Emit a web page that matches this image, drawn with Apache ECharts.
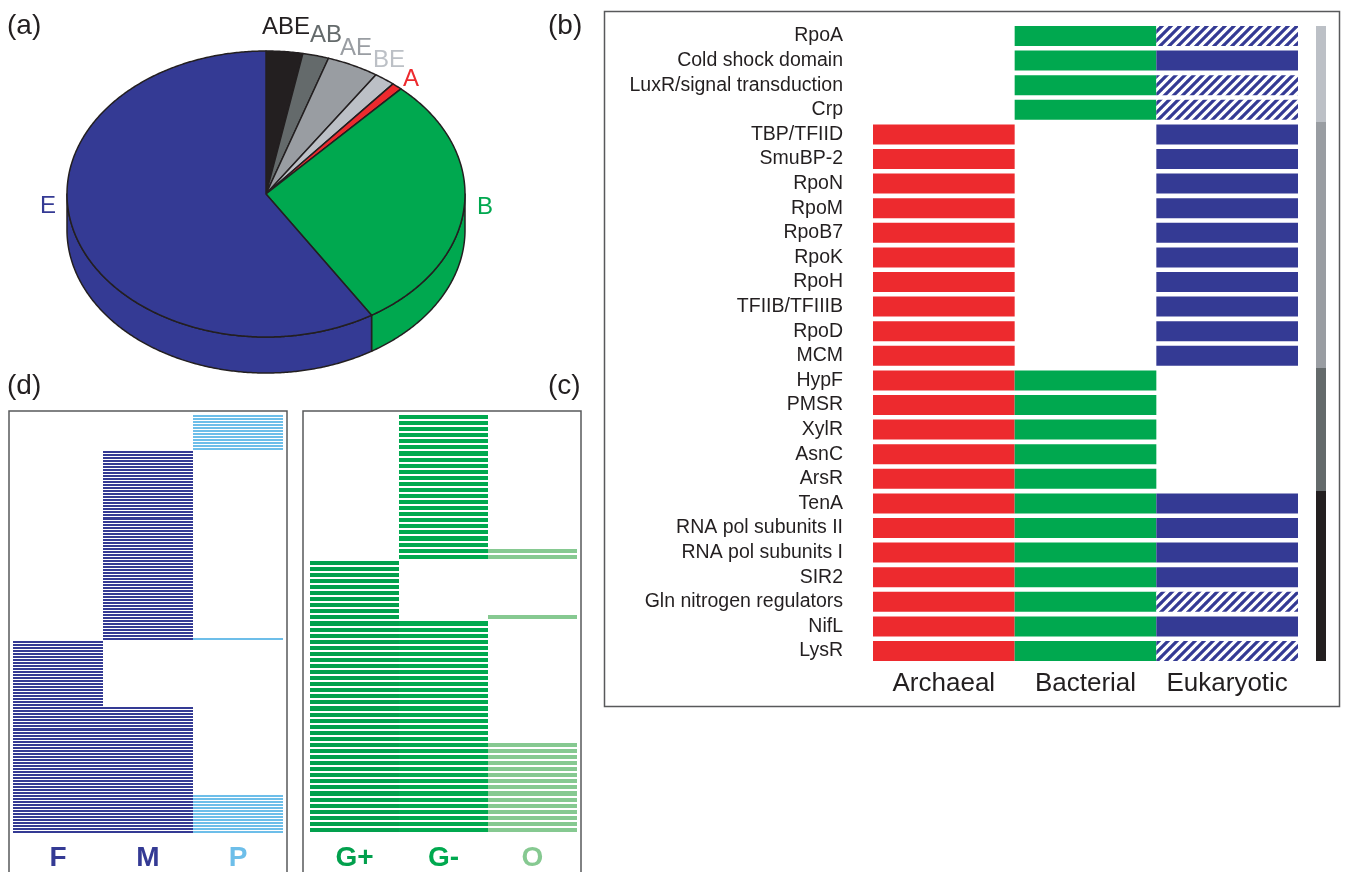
<!DOCTYPE html>
<html><head><meta charset="utf-8">
<script src="https://cdn.jsdelivr.net/npm/echarts@6/dist/echarts.min.js"></script>
<style>html,body{margin:0;padding:0;background:#fff}#c{width:1346px;height:872px}</style>
</head><body><div id="c"></div>
<script>
// ---------------- data ----------------
// (a) pie: number of families by phyletic pattern
const pieNames  = ['ABE','AB','AE','BE','A','B','E'];
const pieValues = [7, 5, 10, 4, 2, 69, 139];
const pieColors = ['#231F20','#646A6B','#999DA2','#BCC0C6','#ED2A2E','#00A84F','#343A94'];

// (b) distribution across domains (0 absent, 1 present, 2 present – hatched)
const bRows = ['RpoA','Cold shock domain','LuxR/signal transduction','Crp','TBP/TFIID','SmuBP-2','RpoN','RpoM','RpoB7','RpoK','RpoH','TFIIB/TFIIIB','RpoD','MCM','HypF','PMSR','XylR','AsnC','ArsR','TenA','RNA pol subunits II','RNA pol subunits I','SIR2','Gln nitrogen regulators','NifL','LysR'];
const bColumns    = ['Archaeal','Bacterial','Eukaryotic'];
const bArchaeal   = [0,0,0,0, 1,1,1,1,1,1,1,1,1,1, 1,1,1,1,1, 1,1,1,1,1,1,1];
const bBacterial  = [1,1,1,1, 0,0,0,0,0,0,0,0,0,0, 1,1,1,1,1, 1,1,1,1,1,1,1];
const bEukaryotic = [2,1,2,2, 1,1,1,1,1,1,1,1,1,1, 0,0,0,0,0, 1,1,1,1,2,1,2];

// (c) bacterial families: presence patterns (top to bottom) and number of rows
const cColumns = ['G+','G-','O'];
const cGroups = [['G-'],['G-','O'],['G+'],['G+','O'],['G+','G-'],['G+','G-','O']];
const cGroupCounts = [22, 2, 9, 1, 20, 15];

// (d) eukaryotic families: presence patterns (top to bottom) and number of rows
const dColumns = ['F','M','P'];
const dGroups = [['P'],['M'],['M','P'],['F'],['F','M'],['F','M','P']];
const dGroupCounts = [12, 62, 1, 22, 29, 13];

// ---------------- styles ----------------
const INK = '#231F20';
const FONT = '"Liberation Sans", Arial, Helvetica, sans-serif';
const bColors = ['#ED2A2E','#00A84F','#343A94'];
const cColors = ['#02A04D','#00A94F','#86C991'];
const dColors = ['#343A94','#343A94','#6DBEE9'];

function buildCells(cols, groups, counts){
  const cells=[]; let r=0;
  groups.forEach((g,gi)=>{ for(let k=0;k<counts[gi];k++){ g.forEach(n=>cells.push([cols.indexOf(n), r])); r++; } });
  return {cells, n:r};
}
const cBuilt = buildCells(cColumns, cGroups, cGroupCounts);
const dBuilt = buildCells(dColumns, dGroups, dGroupCounts);
const idxCats = n => Array.from({length:n},(_,i)=>String(i));

const bCells = [];
const bGroupOfRow = [];
bRows.forEach((_,i)=>{
  const v=[bArchaeal[i],bBacterial[i],bEukaryotic[i]];
  v.forEach((x,j)=>{ if(x>0) bCells.push([j,i,x]); });
  bGroupOfRow.push((v[0]?'A':'')+(v[1]?'B':'')+(v[2]?'E':''));
});

function makeHatch(){
  const s=9, c=document.createElement('canvas'); c.width=c.height=s;
  const g=c.getContext('2d'); g.fillStyle='#fff'; g.fillRect(0,0,s,s);
  g.strokeStyle='#343A94'; g.lineWidth=3.2; g.beginPath();
  [-s,0,s].forEach(k=>{ g.moveTo(k-1,s+1); g.lineTo(k+s+1,-1); });
  g.stroke(); return c;
}
const hatch = {image: makeHatch(), repeat:'repeat'};

// pie geometry (layout)
const PIE = {cx:266, cy:194, rx:199, ry:143, depth:36};
const pieLabelXY = [[286,27],[326,35],[356,48],[389,60],[411,79],[485,207],[48,206]];
const pieTotal = pieValues.reduce((a,b)=>a+b,0);
const pieStart = []; (function(){ let acc=0; pieValues.forEach(v=>{ pieStart.push(acc/pieTotal*360); acc+=v; }); })();
function ell(t,dy){ const r=t*Math.PI/180; return [PIE.cx+PIE.rx*Math.sin(r), PIE.cy-PIE.ry*Math.cos(r)+(dy||0)]; }
function arcPts(a,b,dy){ const pts=[]; const n=Math.max(2,Math.ceil((b-a)/0.5)); for(let i=0;i<=n;i++) pts.push(ell(a+(b-a)*i/n,dy)); return pts; }

function cellRenderer(colors, frac, snapGap){
  return function(params, api){
    const p=api.coord([api.value(0), api.value(1)]);
    const sz=api.size([1,1]);
    const col=api.value(0);
    const fill = (api.value(2)===2) ? hatch : colors[col];
    let y, h;
    if(snapGap){
      y=Math.round(p[1]-sz[1]/2); h=Math.round(p[1]+sz[1]/2)-y-snapGap;
    } else { h=sz[1]*frac; y=p[1]-h/2; }
    return {type:'rect', shape:{x:p[0]-sz[0]/2, y:y, width:sz[0], height:h}, style:{fill:fill}};
  };
}

const chart = echarts.init(document.getElementById('c'), null, {renderer:'canvas'});
const B_TOP=23.7, B_H=26*24.6;
const option = {
  animation:false,
  backgroundColor:'#fff',
  textStyle:{fontFamily:FONT},
  grid:[
    {left:873, top:B_TOP, width:425, height:B_H},
    {left:1316, top:B_TOP, width:10, height:B_H},
    {left:310, top:415, width:267, height:419},
    {left:13, top:415, width:270, height:419}
  ],
  xAxis:[
    {type:'category', gridIndex:0, data:bColumns, axisLine:{show:false}, axisTick:{show:false},
     axisLabel:{fontSize:26, color:INK, margin:8, interval:0, fontFamily:FONT}},
    {type:'category', gridIndex:1, data:['s'], show:false},
    {type:'category', gridIndex:2, data:cColumns, axisLine:{show:false}, axisTick:{show:false},
     axisLabel:{fontSize:28, fontWeight:'bold', margin:10, interval:0, fontFamily:FONT, color:(v,i)=>cColors[cColumns.indexOf(v)]}},
    {type:'category', gridIndex:3, data:dColumns, axisLine:{show:false}, axisTick:{show:false},
     axisLabel:{fontSize:28, fontWeight:'bold', margin:10, interval:0, fontFamily:FONT, color:(v,i)=>dColors[dColumns.indexOf(v)]}}
  ],
  yAxis:[
    {type:'category', gridIndex:0, data:bRows, inverse:true, axisLine:{show:false}, axisTick:{show:false},
     axisLabel:{fontSize:19.5, color:INK, margin:30, interval:0, fontFamily:FONT}},
    {type:'category', gridIndex:1, data:bRows, inverse:true, show:false},
    {type:'category', gridIndex:2, data:idxCats(cBuilt.n), inverse:true, show:false},
    {type:'category', gridIndex:3, data:idxCats(dBuilt.n), inverse:true, show:false}
  ],
  graphic:[
    {type:'rect', shape:{x:604.5, y:11.5, width:735, height:695}, style:{fill:null, stroke:'#58595B', lineWidth:1.5}},
    {type:'rect', shape:{x:303, y:411, width:278, height:480}, style:{fill:null, stroke:'#58595B', lineWidth:1.5}},
    {type:'rect', shape:{x:9, y:411, width:278, height:480}, style:{fill:null, stroke:'#58595B', lineWidth:1.5}},
    {type:'text', x:7, y:26, style:{text:'(a)', font:'28px '+FONT, fill:INK, verticalAlign:'middle'}},
    {type:'text', x:548, y:26, style:{text:'(b)', font:'28px '+FONT, fill:INK, verticalAlign:'middle'}},
    {type:'text', x:548, y:386, style:{text:'(c)', font:'28px '+FONT, fill:INK, verticalAlign:'middle'}},
    {type:'text', x:7, y:386, style:{text:'(d)', font:'28px '+FONT, fill:INK, verticalAlign:'middle'}}
  ],
  series:[
    {
      type:'custom', coordinateSystem:'none',
      data: pieValues.map((v,i)=>({name:pieNames[i], value:[v]})),
      renderItem:function(params, api){
        const i=params.dataIndex; const a=pieStart[i]; const b=a+api.value(0)/pieTotal*360;
        const color=pieColors[i]; const children=[];
        const s0=Math.max(a,90), s1=Math.min(b,270);
        if(s1>s0){
          const top=arcPts(s0,s1,0), bot=arcPts(s0,s1,PIE.depth).reverse();
          children.push({type:'polygon', shape:{points:top.concat(bot)}, style:{fill:color, stroke:INK, lineWidth:1.5, lineJoin:'round'}});
        }
        children.push({type:'polygon', shape:{points:[[PIE.cx,PIE.cy]].concat(arcPts(a,b,0))}, style:{fill:color, stroke:INK, lineWidth:1.5, lineJoin:'round'}});
        children.push({type:'text', x:pieLabelXY[i][0], y:pieLabelXY[i][1], style:{text:pieNames[i], fill:color, font:'24px '+FONT, align:'center', verticalAlign:'middle'}});
        return {type:'group', children:children};
      }
    },
    {type:'custom', xAxisIndex:0, yAxisIndex:0, data:bCells, renderItem:cellRenderer(bColors, 20/24.6, 0)},
    {type:'custom', xAxisIndex:1, yAxisIndex:1, data:bRows.map((_,i)=>[0,i]),
     renderItem:function(params, api){
       const i=api.value(1); const p=api.coord([0,i]); const sz=api.size([1,1]);
       let y0=Math.round(p[1]-sz[1]/2), y1=Math.round(p[1]+sz[1]/2);
       if(i===0) y0=Math.round(p[1]-10); if(i===bRows.length-1) y1=Math.round(p[1]+10);
       const g=bGroupOfRow[i];
       return {type:'rect', shape:{x:Math.round(p[0]-sz[0]/2), y:y0, width:Math.round(sz[0]), height:y1-y0}, style:{fill:pieColors[pieNames.indexOf(g)]}};
     }},
    {type:'custom', xAxisIndex:2, yAxisIndex:2, data:cBuilt.cells, renderItem:cellRenderer(cColors, 0, 2)},
    {type:'custom', xAxisIndex:3, yAxisIndex:3, data:dBuilt.cells, renderItem:cellRenderer(dColors, 0, 1)}
  ]
};
chart.setOption(option);
</script>
</body></html>
